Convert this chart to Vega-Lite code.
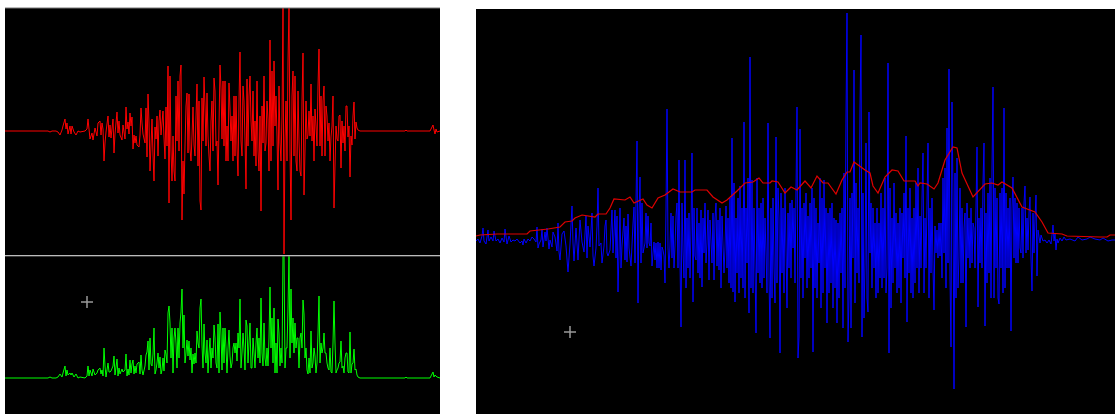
{"$schema":"https://vega.github.io/schema/vega-lite/v6.json","background":"white","padding":{"left":4,"top":7,"right":0,"bottom":0},"autosize":"pad","config":{"view":{"stroke":null,"fill":"black"},"concat":{"spacing":0}},"spacing":34,
"datasets":{
"wave":[{"x":5,"r":0,"g":0},{"x":48,"r":0,"g":0},{"x":50,"r":-1,"g":1},{"x":52,"r":0,"g":0},{"x":56,"r":0,"g":0},{"x":58,"r":-1,"g":1},{"x":60,"r":-4,"g":4},{"x":62,"r":1,"g":1},{"x":63,"r":5,"g":5},{"x":65,"r":12,"g":12},{"x":66,"r":2,"g":2},{"x":67,"r":8,"g":8},{"x":68,"r":-3,"g":3},{"x":70,"r":5,"g":5},{"x":71,"r":-3,"g":3},{"x":72,"r":5,"g":5},{"x":74,"r":-1,"g":1},{"x":76,"r":-4,"g":4},{"x":78,"r":0,"g":0},{"x":80,"r":-1,"g":1},{"x":85,"r":0,"g":0},{"x":87,"r":2,"g":2},{"x":88,"r":12,"g":12},{"x":89,"r":2,"g":2},{"x":90,"r":-8,"g":8},{"x":92,"r":-2,"g":2},{"x":93,"r":-9,"g":9},{"x":95,"r":3,"g":3},{"x":97,"r":-5,"g":5},{"x":98,"r":8,"g":8},{"x":100,"r":10,"g":10},{"x":101,"r":-4,"g":4},{"x":102,"r":8,"g":8},{"x":103,"r":2,"g":2},{"x":104,"r":-30,"g":30},{"x":105,"r":-12,"g":12},{"x":106,"r":-1,"g":1},{"x":108,"r":15,"g":15},{"x":109,"r":-6,"g":6},{"x":110,"r":6,"g":6},{"x":111,"r":-7,"g":7},{"x":113,"r":12,"g":12},{"x":114,"r":-22,"g":22},{"x":115,"r":-3,"g":3},{"x":117,"r":19,"g":19},{"x":118,"r":-2,"g":2},{"x":119,"r":10,"g":10},{"x":120,"r":-4,"g":4},{"x":122,"r":-9,"g":9},{"x":123,"r":6,"g":6},{"x":125,"r":-8,"g":8},{"x":126,"r":24,"g":24},{"x":127,"r":2,"g":2},{"x":128,"r":9,"g":9},{"x":129,"r":-3,"g":3},{"x":130,"r":18,"g":18},{"x":131,"r":5,"g":5},{"x":132,"r":14,"g":14},{"x":133,"r":-18,"g":18},{"x":134,"r":-4,"g":4},{"x":135,"r":-12,"g":12},{"x":136,"r":-5,"g":5},{"x":137,"r":-14,"g":14},{"x":139,"r":-16,"g":16},{"x":140,"r":-4,"g":4},{"x":141,"r":23,"g":23},{"x":142,"r":8,"g":8},{"x":143,"r":-3,"g":3},{"x":145,"r":-12,"g":12},{"x":146,"r":23,"g":23},{"x":147,"r":-26,"g":26},{"x":148,"r":37,"g":37},{"x":149,"r":8,"g":8},{"x":150,"r":-40,"g":40},{"x":151,"r":-14,"g":14},{"x":152,"r":12,"g":12},{"x":153,"r":-24,"g":24},{"x":154,"r":-50,"g":50},{"x":155,"r":4,"g":4},{"x":156,"r":-8,"g":8},{"x":157,"r":15,"g":15},{"x":158,"r":-25,"g":25},{"x":159,"r":10,"g":10},{"x":160,"r":21,"g":21},{"x":161,"r":-4,"g":4},{"x":162,"r":8,"g":8},{"x":163,"r":20,"g":20},{"x":164,"r":-7,"g":7},{"x":165,"r":-28,"g":28},{"x":166,"r":24,"g":24},{"x":167,"r":-15,"g":15},{"x":168,"r":65,"g":65},{"x":169,"r":-72,"g":72},{"x":170,"r":55,"g":55},{"x":171,"r":-20,"g":20},{"x":172,"r":-50,"g":50},{"x":173,"r":-5,"g":5},{"x":174,"r":-40,"g":40},{"x":175,"r":-50,"g":50},{"x":176,"r":35,"g":35},{"x":177,"r":-10,"g":10},{"x":178,"r":50,"g":50},{"x":179,"r":-20,"g":20},{"x":180,"r":55,"g":55},{"x":181,"r":66,"g":66},{"x":182,"r":-89,"g":89},{"x":183,"r":-30,"g":30},{"x":184,"r":-63,"g":63},{"x":185,"r":-15,"g":15},{"x":186,"r":25,"g":25},{"x":187,"r":38,"g":38},{"x":188,"r":-22,"g":22},{"x":189,"r":37,"g":37},{"x":190,"r":-18,"g":18},{"x":191,"r":-30,"g":30},{"x":192,"r":-5,"g":5},{"x":193,"r":24,"g":24},{"x":194,"r":-14,"g":14},{"x":195,"r":-25,"g":25},{"x":196,"r":15,"g":15},{"x":197,"r":47,"g":47},{"x":198,"r":-35,"g":35},{"x":199,"r":30,"g":30},{"x":200,"r":-70,"g":70},{"x":201,"r":-79,"g":79},{"x":202,"r":33,"g":33},{"x":203,"r":-10,"g":10},{"x":204,"r":54,"g":54},{"x":205,"r":25,"g":25},{"x":206,"r":-15,"g":15},{"x":207,"r":38,"g":38},{"x":208,"r":-5,"g":5},{"x":209,"r":-25,"g":25},{"x":210,"r":-40,"g":40},{"x":211,"r":10,"g":10},{"x":212,"r":30,"g":30},{"x":213,"r":-20,"g":20},{"x":214,"r":53,"g":53},{"x":215,"r":40,"g":40},{"x":216,"r":-15,"g":15},{"x":217,"r":-10,"g":10},{"x":218,"r":-54,"g":54},{"x":219,"r":5,"g":5},{"x":220,"r":66,"g":66},{"x":221,"r":43,"g":43},{"x":222,"r":-8,"g":8},{"x":223,"r":50,"g":50},{"x":224,"r":-15,"g":15},{"x":225,"r":50,"g":50},{"x":226,"r":-30,"g":30},{"x":227,"r":5,"g":5},{"x":228,"r":-30,"g":30},{"x":229,"r":48,"g":48},{"x":230,"r":22,"g":22},{"x":231,"r":-10,"g":10},{"x":232,"r":15,"g":15},{"x":233,"r":-30,"g":30},{"x":234,"r":35,"g":35},{"x":235,"r":-25,"g":25},{"x":236,"r":35,"g":35},{"x":237,"r":-17,"g":17},{"x":238,"r":-45,"g":45},{"x":239,"r":30,"g":30},{"x":240,"r":79,"g":79},{"x":241,"r":-10,"g":10},{"x":242,"r":-25,"g":25},{"x":243,"r":45,"g":45},{"x":244,"r":30,"g":30},{"x":245,"r":-8,"g":8},{"x":246,"r":-58,"g":58},{"x":247,"r":52,"g":52},{"x":248,"r":-15,"g":15},{"x":249,"r":35,"g":35},{"x":250,"r":55,"g":55},{"x":251,"r":10,"g":10},{"x":252,"r":-10,"g":10},{"x":253,"r":40,"g":40},{"x":254,"r":-25,"g":25},{"x":255,"r":10,"g":10},{"x":256,"r":-35,"g":35},{"x":257,"r":50,"g":50},{"x":258,"r":-20,"g":20},{"x":259,"r":-40,"g":40},{"x":260,"r":15,"g":15},{"x":261,"r":-80,"g":80},{"x":262,"r":25,"g":25},{"x":263,"r":-12,"g":12},{"x":264,"r":55,"g":55},{"x":265,"r":-20,"g":20},{"x":266,"r":-12,"g":12},{"x":267,"r":30,"g":30},{"x":268,"r":12,"g":12},{"x":269,"r":-40,"g":40},{"x":270,"r":91,"g":91},{"x":271,"r":-30,"g":30},{"x":272,"r":60,"g":60},{"x":273,"r":-15,"g":15},{"x":274,"r":70,"g":70},{"x":275,"r":5,"g":5},{"x":276,"r":35,"g":35},{"x":277,"r":-5,"g":5},{"x":278,"r":-59,"g":59},{"x":279,"r":45,"g":45},{"x":280,"r":-12,"g":12},{"x":281,"r":-30,"g":30},{"x":282,"r":15,"g":15},{"x":283,"r":123,"g":123},{"x":284,"r":-123,"g":123},{"x":285,"r":-10,"g":10},{"x":286,"r":30,"g":30},{"x":287,"r":-30,"g":30},{"x":288,"r":70,"g":70},{"x":289,"r":123,"g":123},{"x":290,"r":-20,"g":20},{"x":291,"r":-89,"g":89},{"x":292,"r":35,"g":35},{"x":293,"r":60,"g":60},{"x":294,"r":-25,"g":25},{"x":295,"r":55,"g":55},{"x":296,"r":-30,"g":30},{"x":297,"r":-40,"g":40},{"x":298,"r":40,"g":40},{"x":299,"r":-10,"g":10},{"x":300,"r":-40,"g":40},{"x":301,"r":-45,"g":45},{"x":302,"r":30,"g":30},{"x":303,"r":78,"g":78},{"x":304,"r":-64,"g":64},{"x":305,"r":-20,"g":20},{"x":306,"r":30,"g":30},{"x":307,"r":-8,"g":8},{"x":308,"r":-4,"g":4},{"x":309,"r":20,"g":20},{"x":310,"r":-5,"g":5},{"x":311,"r":47,"g":47},{"x":312,"r":-10,"g":10},{"x":313,"r":15,"g":15},{"x":314,"r":-30,"g":30},{"x":315,"r":22,"g":22},{"x":316,"r":5,"g":5},{"x":317,"r":-15,"g":15},{"x":318,"r":45,"g":45},{"x":319,"r":82,"g":82},{"x":320,"r":-15,"g":15},{"x":321,"r":35,"g":35},{"x":322,"r":-25,"g":25},{"x":323,"r":30,"g":30},{"x":324,"r":45,"g":45},{"x":325,"r":-25,"g":25},{"x":326,"r":25,"g":25},{"x":327,"r":15,"g":15},{"x":328,"r":-10,"g":10},{"x":329,"r":8,"g":8},{"x":330,"r":-30,"g":30},{"x":331,"r":-6,"g":6},{"x":332,"r":5,"g":5},{"x":333,"r":35,"g":35},{"x":334,"r":-77,"g":77},{"x":335,"r":-35,"g":35},{"x":336,"r":5,"g":5},{"x":337,"r":-8,"g":8},{"x":338,"r":-10,"g":10},{"x":339,"r":15,"g":15},{"x":340,"r":16,"g":16},{"x":341,"r":-37,"g":37},{"x":342,"r":10,"g":10},{"x":343,"r":-12,"g":12},{"x":344,"r":5,"g":5},{"x":345,"r":-20,"g":20},{"x":346,"r":25,"g":25},{"x":347,"r":25,"g":25},{"x":348,"r":-6,"g":6},{"x":349,"r":5,"g":5},{"x":350,"r":-46,"g":46},{"x":351,"r":-5,"g":5},{"x":352,"r":-14,"g":14},{"x":353,"r":15,"g":15},{"x":354,"r":29,"g":29},{"x":355,"r":-8,"g":8},{"x":356,"r":9,"g":9},{"x":357,"r":3,"g":3},{"x":358,"r":1,"g":1},{"x":360,"r":0,"g":0},{"x":405,"r":0,"g":0},{"x":406,"r":1,"g":1},{"x":407,"r":0,"g":0},{"x":430,"r":0,"g":0},{"x":432,"r":4,"g":4},{"x":433,"r":6,"g":6},{"x":434,"r":1,"g":1},{"x":435,"r":-3,"g":3},{"x":436,"r":2,"g":2},{"x":437,"r":-1,"g":1},{"x":440,"r":0,"g":0}],
"blue":[{"x":476,"b":-3},{"x":478,"b":-1},{"x":480,"b":-5},{"x":482,"b":2},{"x":483,"b":10},{"x":484,"b":-3},{"x":486,"b":-6},{"x":488,"b":8},{"x":489,"b":-3},{"x":491,"b":1},{"x":493,"b":-3},{"x":494,"b":7},{"x":496,"b":-3},{"x":498,"b":-1},{"x":500,"b":-5},{"x":502,"b":0},{"x":504,"b":-4},{"x":505,"b":9},{"x":507,"b":-6},{"x":509,"b":2},{"x":511,"b":-4},{"x":513,"b":-2},{"x":515,"b":-3},{"x":517,"b":-1},{"x":520,"b":-5},{"x":522,"b":-3},{"x":523,"b":-7},{"x":524,"b":-1},{"x":526,"b":-5},{"x":528,"b":-1},{"x":530,"b":-3},{"x":532,"b":1},{"x":534,"b":-1},{"x":536,"b":-4},{"x":537,"b":11},{"x":538,"b":-10},{"x":539,"b":-6},{"x":541,"b":-2},{"x":542,"b":9},{"x":543,"b":-9},{"x":545,"b":6},{"x":546,"b":-3},{"x":547,"b":10},{"x":549,"b":-11},{"x":550,"b":-2},{"x":552,"b":-9},{"x":553,"b":6},{"x":555,"b":1},{"x":557,"b":-13},{"x":558,"b":15},{"x":559,"b":-14},{"x":560,"b":-22},{"x":562,"b":4},{"x":564,"b":7},{"x":566,"b":-8},{"x":568,"b":-34},{"x":570,"b":-6},{"x":572,"b":32},{"x":573,"b":-5},{"x":574,"b":-23},{"x":576,"b":10},{"x":578,"b":-22},{"x":580,"b":18},{"x":582,"b":-4},{"x":584,"b":-14},{"x":586,"b":22},{"x":587,"b":-20},{"x":588,"b":12},{"x":590,"b":-9},{"x":592,"b":25},{"x":593,"b":-18},{"x":594,"b":-28},{"x":596,"b":-10},{"x":597,"b":12},{"x":598,"b":50},{"x":599,"b":-8},{"x":601,"b":-5},{"x":602,"b":-25},{"x":604,"b":-8},{"x":605,"b":12},{"x":606,"b":18},{"x":607,"b":-15},{"x":608,"b":-18},{"x":610,"b":-12},{"x":612,"b":28},{"x":613,"b":-15},{"x":614,"b":5},{"x":615,"b":28},{"x":616,"b":-20},{"x":617,"b":22},{"x":618,"b":-54},{"x":619,"b":-15},{"x":620,"b":30},{"x":621,"b":-30},{"x":622,"b":-8},{"x":624,"b":20},{"x":625,"b":-22},{"x":626,"b":12},{"x":627,"b":-24},{"x":628,"b":24},{"x":629,"b":-10},{"x":631,"b":-28},{"x":633,"b":14},{"x":634,"b":31},{"x":635,"b":-25},{"x":637,"b":97},{"x":638,"b":-65},{"x":639,"b":24},{"x":640,"b":61},{"x":641,"b":-25},{"x":642,"b":35},{"x":643,"b":-15},{"x":645,"b":-5},{"x":646,"b":25},{"x":647,"b":-10},{"x":648,"b":22},{"x":649,"b":-5},{"x":650,"b":-8},{"x":651,"b":15},{"x":652,"b":-28},{"x":654,"b":-4},{"x":655,"b":-22},{"x":656,"b":-5},{"x":657,"b":-30},{"x":658,"b":-4},{"x":659,"b":-30},{"x":660,"b":-5},{"x":661,"b":-32},{"x":662,"b":-9},{"x":663,"b":-12},{"x":664,"b":-18},{"x":665,"b":-45},{"x":666,"b":28},{"x":667,"b":129},{"x":668,"b":-10},{"x":669,"b":-30},{"x":670,"b":-8},{"x":671,"b":25},{"x":672,"b":-20},{"x":673,"b":22},{"x":674,"b":-30},{"x":675,"b":-8},{"x":676,"b":22},{"x":677,"b":35},{"x":678,"b":-30},{"x":679,"b":78},{"x":680,"b":-24},{"x":681,"b":-89},{"x":682,"b":35},{"x":683,"b":-14},{"x":684,"b":-40},{"x":685,"b":78},{"x":686,"b":-50},{"x":687,"b":20},{"x":688,"b":-30},{"x":689,"b":25},{"x":690,"b":-40},{"x":691,"b":10},{"x":692,"b":85},{"x":693,"b":-64},{"x":694,"b":30},{"x":695,"b":-18},{"x":696,"b":-22},{"x":697,"b":30},{"x":698,"b":-35},{"x":699,"b":15},{"x":700,"b":-40},{"x":701,"b":28},{"x":702,"b":-49},{"x":703,"b":20},{"x":704,"b":-15},{"x":705,"b":35},{"x":706,"b":-25},{"x":707,"b":-5},{"x":708,"b":28},{"x":709,"b":-42},{"x":710,"b":18},{"x":712,"b":-25},{"x":713,"b":25},{"x":714,"b":-42},{"x":715,"b":20},{"x":716,"b":35},{"x":717,"b":-28},{"x":718,"b":18},{"x":719,"b":-32},{"x":720,"b":30},{"x":721,"b":-50},{"x":722,"b":22},{"x":724,"b":-35},{"x":725,"b":-10},{"x":726,"b":32},{"x":727,"b":-30},{"x":728,"b":20},{"x":729,"b":-45},{"x":730,"b":40},{"x":731,"b":-50},{"x":732,"b":100},{"x":733,"b":-54},{"x":734,"b":55},{"x":735,"b":-64},{"x":736,"b":20},{"x":737,"b":-35},{"x":738,"b":40},{"x":739,"b":-55},{"x":740,"b":52},{"x":741,"b":-40},{"x":742,"b":30},{"x":743,"b":-50},{"x":744,"b":116},{"x":745,"b":-60},{"x":746,"b":30},{"x":747,"b":-25},{"x":748,"b":60},{"x":749,"b":-75},{"x":750,"b":181},{"x":751,"b":-50},{"x":752,"b":58},{"x":753,"b":-55},{"x":754,"b":30},{"x":755,"b":-30},{"x":756,"b":-95},{"x":757,"b":60},{"x":758,"b":-35},{"x":759,"b":30},{"x":760,"b":-45},{"x":761,"b":35},{"x":762,"b":-50},{"x":763,"b":40},{"x":764,"b":-40},{"x":765,"b":20},{"x":766,"b":-15},{"x":767,"b":-55},{"x":768,"b":115},{"x":769,"b":-40},{"x":770,"b":-100},{"x":771,"b":30},{"x":772,"b":-60},{"x":773,"b":40},{"x":774,"b":-30},{"x":775,"b":-65},{"x":776,"b":101},{"x":777,"b":-45},{"x":778,"b":50},{"x":779,"b":20},{"x":780,"b":-115},{"x":781,"b":45},{"x":782,"b":-35},{"x":783,"b":30},{"x":784,"b":-55},{"x":785,"b":50},{"x":786,"b":-10},{"x":787,"b":-70},{"x":788,"b":25},{"x":789,"b":-30},{"x":790,"b":35},{"x":791,"b":-40},{"x":792,"b":38},{"x":793,"b":-10},{"x":794,"b":30},{"x":795,"b":-45},{"x":796,"b":48},{"x":797,"b":131},{"x":798,"b":-120},{"x":799,"b":-99},{"x":800,"b":109},{"x":801,"b":-40},{"x":802,"b":30},{"x":803,"b":-60},{"x":804,"b":35},{"x":805,"b":-20},{"x":806,"b":45},{"x":807,"b":-50},{"x":808,"b":22},{"x":809,"b":-40},{"x":810,"b":35},{"x":811,"b":-30},{"x":812,"b":50},{"x":813,"b":-114},{"x":814,"b":40},{"x":815,"b":-50},{"x":816,"b":30},{"x":817,"b":-60},{"x":818,"b":15},{"x":819,"b":-25},{"x":820,"b":60},{"x":821,"b":-70},{"x":822,"b":40},{"x":823,"b":-55},{"x":824,"b":58},{"x":825,"b":-30},{"x":826,"b":30},{"x":827,"b":-85},{"x":828,"b":25},{"x":829,"b":-55},{"x":830,"b":30},{"x":831,"b":-45},{"x":832,"b":35},{"x":833,"b":-70},{"x":834,"b":20},{"x":835,"b":-50},{"x":836,"b":18},{"x":837,"b":-85},{"x":838,"b":15},{"x":839,"b":-60},{"x":840,"b":25},{"x":841,"b":-35},{"x":842,"b":30},{"x":843,"b":-90},{"x":844,"b":65},{"x":845,"b":-50},{"x":846,"b":120},{"x":847,"b":225},{"x":848,"b":-104},{"x":849,"b":-60},{"x":850,"b":40},{"x":851,"b":-90},{"x":852,"b":45},{"x":853,"b":-20},{"x":854,"b":168},{"x":855,"b":-65},{"x":856,"b":55},{"x":857,"b":-35},{"x":858,"b":30},{"x":859,"b":-45},{"x":860,"b":130},{"x":861,"b":203},{"x":862,"b":-99},{"x":863,"b":45},{"x":864,"b":-80},{"x":865,"b":-25},{"x":866,"b":95},{"x":867,"b":-60},{"x":868,"b":-74},{"x":869,"b":126},{"x":870,"b":-15},{"x":871,"b":35},{"x":872,"b":-50},{"x":873,"b":30},{"x":874,"b":-30},{"x":875,"b":15},{"x":876,"b":-60},{"x":877,"b":30},{"x":878,"b":-55},{"x":879,"b":15},{"x":880,"b":-40},{"x":881,"b":45},{"x":882,"b":-50},{"x":883,"b":30},{"x":884,"b":-40},{"x":885,"b":60},{"x":886,"b":-55},{"x":887,"b":-30},{"x":888,"b":175},{"x":889,"b":-115},{"x":890,"b":50},{"x":891,"b":-70},{"x":892,"b":20},{"x":893,"b":-45},{"x":894,"b":55},{"x":895,"b":-30},{"x":896,"b":25},{"x":897,"b":-55},{"x":898,"b":15},{"x":899,"b":-50},{"x":900,"b":30},{"x":901,"b":-65},{"x":902,"b":25},{"x":903,"b":-20},{"x":904,"b":45},{"x":905,"b":-40},{"x":906,"b":102},{"x":907,"b":-84},{"x":908,"b":30},{"x":909,"b":-35},{"x":910,"b":50},{"x":911,"b":-55},{"x":912,"b":20},{"x":913,"b":-60},{"x":914,"b":30},{"x":915,"b":-45},{"x":916,"b":55},{"x":917,"b":-30},{"x":918,"b":70},{"x":919,"b":-55},{"x":920,"b":22},{"x":921,"b":-30},{"x":922,"b":40},{"x":923,"b":85},{"x":924,"b":-55},{"x":925,"b":20},{"x":926,"b":-30},{"x":927,"b":35},{"x":928,"b":95},{"x":929,"b":-60},{"x":930,"b":30},{"x":931,"b":-35},{"x":932,"b":40},{"x":933,"b":-30},{"x":934,"b":-72},{"x":935,"b":12},{"x":936,"b":-15},{"x":937,"b":8},{"x":938,"b":-20},{"x":939,"b":15},{"x":940,"b":-18},{"x":941,"b":15},{"x":942,"b":-40},{"x":943,"b":60},{"x":944,"b":-15},{"x":945,"b":70},{"x":946,"b":-50},{"x":947,"b":110},{"x":948,"b":-25},{"x":949,"b":169},{"x":950,"b":-40},{"x":951,"b":-109},{"x":952,"b":136},{"x":953,"b":40},{"x":954,"b":-151},{"x":955,"b":65},{"x":956,"b":-60},{"x":957,"b":80},{"x":958,"b":-50},{"x":959,"b":-20},{"x":960,"b":50},{"x":961,"b":-45},{"x":962,"b":30},{"x":963,"b":-45},{"x":964,"b":10},{"x":965,"b":25},{"x":966,"b":-89},{"x":967,"b":35},{"x":968,"b":-20},{"x":969,"b":20},{"x":970,"b":-30},{"x":971,"b":30},{"x":972,"b":-25},{"x":973,"b":15},{"x":974,"b":10},{"x":975,"b":-30},{"x":976,"b":30},{"x":977,"b":91},{"x":978,"b":-69},{"x":979,"b":20},{"x":980,"b":-25},{"x":981,"b":30},{"x":982,"b":-30},{"x":983,"b":55},{"x":984,"b":95},{"x":985,"b":-88},{"x":986,"b":25},{"x":987,"b":-45},{"x":988,"b":45},{"x":989,"b":-35},{"x":990,"b":60},{"x":991,"b":-60},{"x":992,"b":70},{"x":993,"b":151},{"x":994,"b":-60},{"x":995,"b":50},{"x":996,"b":-30},{"x":997,"b":40},{"x":998,"b":-60},{"x":999,"b":-66},{"x":1000,"b":45},{"x":1001,"b":-30},{"x":1002,"b":50},{"x":1003,"b":-55},{"x":1004,"b":130},{"x":1005,"b":-50},{"x":1006,"b":45},{"x":1007,"b":-30},{"x":1008,"b":30},{"x":1009,"b":-30},{"x":1010,"b":40},{"x":1011,"b":-93},{"x":1012,"b":30},{"x":1013,"b":61},{"x":1014,"b":-20},{"x":1015,"b":40},{"x":1016,"b":-25},{"x":1017,"b":35},{"x":1018,"b":-25},{"x":1019,"b":30},{"x":1020,"b":-10},{"x":1021,"b":-15},{"x":1022,"b":30},{"x":1023,"b":-20},{"x":1024,"b":35},{"x":1025,"b":52},{"x":1026,"b":-15},{"x":1027,"b":20},{"x":1028,"b":-12},{"x":1029,"b":25},{"x":1030,"b":41},{"x":1031,"b":-20},{"x":1032,"b":-53},{"x":1033,"b":25},{"x":1034,"b":-15},{"x":1035,"b":20},{"x":1036,"b":43},{"x":1037,"b":-38},{"x":1038,"b":8},{"x":1040,"b":-5},{"x":1041,"b":3},{"x":1043,"b":-3},{"x":1045,"b":-2},{"x":1047,"b":-5},{"x":1049,"b":-2},{"x":1051,"b":-6},{"x":1052,"b":3},{"x":1053,"b":13},{"x":1054,"b":-3},{"x":1055,"b":4},{"x":1056,"b":-12},{"x":1057,"b":-1},{"x":1058,"b":-5},{"x":1060,"b":0},{"x":1062,"b":-3},{"x":1064,"b":1},{"x":1066,"b":-2},{"x":1070,"b":-1},{"x":1075,"b":-3},{"x":1078,"b":1},{"x":1082,"b":-2},{"x":1087,"b":-1},{"x":1090,"b":1},{"x":1095,"b":-1},{"x":1100,"b":-2},{"x":1103,"b":0},{"x":1108,"b":-3},{"x":1112,"b":-2},{"x":1115,"b":-2}],
"env":[{"x":476,"e":2},{"x":480,"e":3},{"x":497,"e":4},{"x":527,"e":4},{"x":530,"e":7},{"x":548,"e":9},{"x":560,"e":11},{"x":565,"e":16},{"x":572,"e":17},{"x":575,"e":20},{"x":582,"e":23},{"x":595,"e":21},{"x":598,"e":24},{"x":606,"e":24},{"x":610,"e":30},{"x":614,"e":39},{"x":625,"e":38},{"x":630,"e":41},{"x":634,"e":35},{"x":643,"e":39},{"x":647,"e":33},{"x":652,"e":30},{"x":658,"e":40},{"x":665,"e":43},{"x":673,"e":49},{"x":680,"e":46},{"x":692,"e":46},{"x":695,"e":48},{"x":707,"e":48},{"x":713,"e":41},{"x":722,"e":35},{"x":727,"e":38},{"x":737,"e":47},{"x":745,"e":55},{"x":753,"e":56},{"x":759,"e":60},{"x":763,"e":55},{"x":770,"e":55},{"x":772,"e":57},{"x":778,"e":56},{"x":785,"e":45},{"x":791,"e":51},{"x":797,"e":48},{"x":805,"e":57},{"x":811,"e":50},{"x":817,"e":62},{"x":823,"e":55},{"x":828,"e":55},{"x":836,"e":44},{"x":842,"e":58},{"x":847,"e":66},{"x":850,"e":66},{"x":854,"e":76},{"x":865,"e":68},{"x":870,"e":65},{"x":873,"e":52},{"x":878,"e":45},{"x":885,"e":61},{"x":892,"e":68},{"x":898,"e":67},{"x":904,"e":57},{"x":915,"e":57},{"x":918,"e":52},{"x":920,"e":55},{"x":927,"e":54},{"x":934,"e":49},{"x":938,"e":55},{"x":945,"e":78},{"x":953,"e":91},{"x":957,"e":90},{"x":962,"e":65},{"x":973,"e":41},{"x":985,"e":54},{"x":992,"e":55},{"x":998,"e":53},{"x":1002,"e":56},{"x":1012,"e":50},{"x":1022,"e":31},{"x":1035,"e":26},{"x":1042,"e":16},{"x":1048,"e":5},{"x":1062,"e":4},{"x":1067,"e":2},{"x":1100,"e":1},{"x":1107,"e":1},{"x":1110,"e":3},{"x":1115,"e":3}]
},
"hconcat":[{"vconcat":[
{"width":435,"height":247,"layer":[
{"data":{"name":"wave"},"mark":{"type":"line","color":"#ff0000","strokeWidth":1,"clip":true},"encoding":{"x":{"field":"x","type":"quantitative","axis":null,"scale":{"domain":[5,440]}},"y":{"field":"r","type":"quantitative","axis":null,"scale":{"domain":[-124,123]}}}},
{"data":{"values":[{"level":123}]},"mark":{"type":"rule","color":"#777777","strokeWidth":1},"encoding":{"y":{"field":"level","type":"quantitative","axis":null,"scale":{"domain":[-124,123]}}}}
]},
{"width":435,"height":159,"layer":[
{"data":{"name":"wave"},"mark":{"type":"line","color":"#00ff00","strokeWidth":1,"clip":true},"encoding":{"x":{"field":"x","type":"quantitative","axis":null,"scale":{"domain":[5,440]}},"y":{"field":"g","type":"quantitative","axis":null,"scale":{"domain":[-37,122]}}}},
{"data":{"values":[{"level":122}]},"mark":{"type":"rule","color":"#777777","strokeWidth":1},"encoding":{"y":{"field":"level","type":"quantitative","axis":null,"scale":{"domain":[-37,122]}}}},
{"data":{"values":[{"cx":87,"cy":76}]},"mark":{"type":"point","shape":"M-1,0L1,0M0,-1L0,1","size":144,"filled":false,"color":"#999999","strokeWidth":1.5,"opacity":1},"encoding":{"x":{"field":"cx","type":"quantitative","axis":null,"scale":{"domain":[5,440]}},"y":{"field":"cy","type":"quantitative","axis":null,"scale":{"domain":[-37,122]}}}}
]}
]},
{"width":639,"height":406,"layer":[
{"data":{"name":"blue"},"mark":{"type":"line","color":"#0000ff","strokeWidth":1,"clip":true},"encoding":{"x":{"field":"x","type":"quantitative","axis":null,"scale":{"domain":[476,1115]}},"y":{"field":"b","type":"quantitative","axis":null,"scale":{"domain":[-176,230]}}}},
{"data":{"name":"env"},"mark":{"type":"line","color":"#e00000","strokeWidth":1.2,"clip":true},"encoding":{"x":{"field":"x","type":"quantitative","axis":null,"scale":{"domain":[476,1115]}},"y":{"field":"e","type":"quantitative","axis":null,"scale":{"domain":[-176,230]}}}},
{"data":{"values":[{"cx":570,"cy":-94}]},"mark":{"type":"point","shape":"M-1,0L1,0M0,-1L0,1","size":144,"filled":false,"color":"#999999","strokeWidth":1.5,"opacity":1},"encoding":{"x":{"field":"cx","type":"quantitative","axis":null,"scale":{"domain":[476,1115]}},"y":{"field":"cy","type":"quantitative","axis":null,"scale":{"domain":[-176,230]}}}},
{"data":{"values":[{"level":230}]},"mark":{"type":"rule","color":"white","strokeWidth":2},"encoding":{"y":{"field":"level","type":"quantitative","axis":null,"scale":{"domain":[-176,230]}}}}
]}
]}
